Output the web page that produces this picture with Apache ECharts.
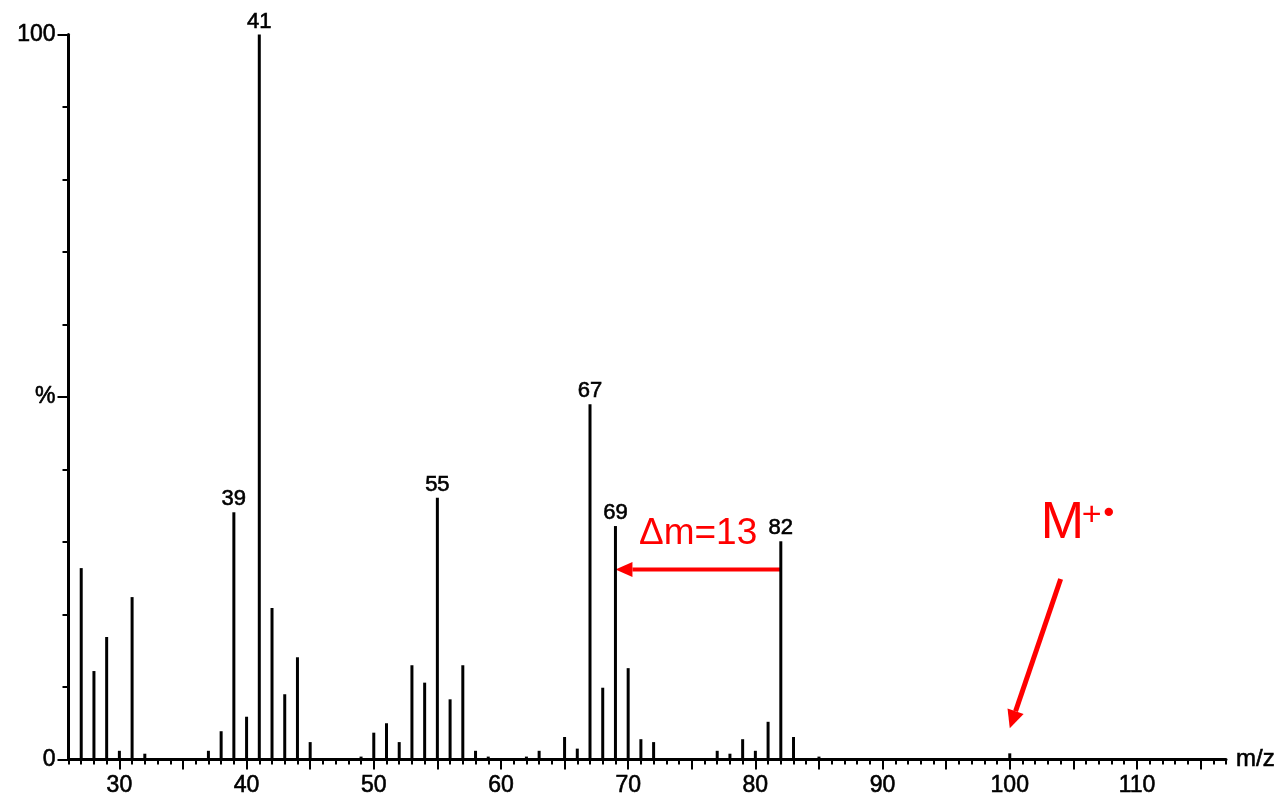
<!DOCTYPE html>
<html>
<head>
<meta charset="utf-8">
<script src="https://cdn.jsdelivr.net/npm/echarts@6/dist/echarts.min.js"></script>
<style>
html,body{margin:0;padding:0;background:#fff;}
#chart{width:1283px;height:800px;}
</style>
</head>
<body>
<div id="chart"></div>
<script>
// ---- data ----
const mz = [27,28,29,30,31,32,37,38,39,40,41,42,43,44,45,49,50,51,52,53,54,55,56,57,58,59,62,63,65,66,67,68,69,70,71,72,77,78,79,80,81,82,83,85,100];
const intensity = [26.4,12.2,16.9,1.2,22.4,0.8,1.2,3.9,34.1,5.9,100,20.9,9.0,14.1,2.4,0.4,3.7,5.0,2.4,13.0,10.6,36.1,8.3,13.0,1.2,0.4,0.4,1.2,3.1,1.5,49.0,9.9,32.2,12.6,2.8,2.4,1.2,0.8,2.8,1.2,5.2,30.1,3.1,0.4,0.85];
const labeledPeaks = [39,41,55,67,69,82];
const xLabelTicks = [30,40,50,60,70,80,90,100,110];
const xMajorTicks = [30,35,40,45,50,55,60,65,70,75,80,85,90,95,100,105,110,115];
const yMinorTicks = [0,10,20,30,40,50,60,70,80,90,100];
const yLabelValues = [0,50,100];
const yLabelTexts = ['0','%','100'];
const xMin = 26, xMax = 117;
// annotations (data coordinates)
const deltaArrow = [[82,26.2],[69,26.2]];
const deltaLabel = {text:'Δm=13', at:[75.5,31.2]};
const molArrow = [[104.0,24.9],[100,4.3]];
const molLabelAt = [102.44,32.5];

// ---- chart ----
const xMinorTicks = [];
for (let v = xMin; v <= xMax; v++) xMinorTicks.push(v);

const FONT = '"Liberation Sans", Arial, sans-serif';
const INK = {color:'#000', textBorderColor:'#000', textBorderWidth:0.6};
const chart = echarts.init(document.getElementById('chart'));

const barData = mz.map((m, i) => {
  const item = {value:[m, intensity[i]]};
  if (labeledPeaks.includes(m)) item.label = {show:true};
  return item;
});

chart.setOption({
  animation:false,
  backgroundColor:'#fff',
  grid:{left:68.5, right:57, top:34.5, bottom:40.5, containLabel:false},
  xAxis:[
    {type:'value', min:xMin, max:xMax, position:'bottom',
     name:'m/z', nameLocation:'end', nameGap:10,
     nameTextStyle:Object.assign({fontFamily:FONT, fontSize:24, verticalAlign:'middle'}, INK),
     axisLine:{show:true, onZero:false, lineStyle:{color:'#000', width:3}},
     axisTick:{show:true, length:5, customValues:xMinorTicks, lineStyle:{color:'#000', width:2}},
     axisLabel:{show:false}, splitLine:{show:false}},
    {type:'value', min:xMin, max:xMax, position:'bottom',
     axisLine:{show:false},
     axisTick:{show:true, length:10, customValues:xMajorTicks, lineStyle:{color:'#000', width:2}},
     axisLabel:Object.assign({show:true, customValues:xLabelTicks, margin:15, fontFamily:FONT, fontSize:23}, INK),
     splitLine:{show:false}}
  ],
  yAxis:[
    {type:'value', min:0, max:100, position:'left',
     axisLine:{show:true, lineStyle:{color:'#000', width:3}},
     axisTick:{show:true, length:6, customValues:yMinorTicks, lineStyle:{color:'#000', width:2}},
     axisLabel:{show:false}, splitLine:{show:false}},
    {type:'value', min:0, max:100, position:'left',
     axisLine:{show:false},
     axisTick:{show:true, length:11, customValues:yLabelValues, lineStyle:{color:'#000', width:2}},
     axisLabel:Object.assign({show:true, customValues:yLabelValues, margin:13, fontFamily:FONT, fontSize:23,
       formatter:(v)=>{const i=yLabelValues.indexOf(v); return i>=0?yLabelTexts[i]:'';}}, INK),
     splitLine:{show:false}}
  ],
  series:[{
    type:'bar', xAxisIndex:0, yAxisIndex:0, barWidth:3,
    itemStyle:{color:'#000'},
    label:Object.assign({show:false, position:'top', distance:2, fontFamily:FONT, fontSize:22,
      formatter:(p)=>String(p.value[0])}, INK),
    data:barData
  }]
});

// ---- annotations through the axis scales ----
function px(p){ return chart.convertToPixel({xAxisIndex:0, yAxisIndex:0}, p); }
function arrow(a, b, w, headLen, headW){
  const A = px(a), B = px(b);
  const dx = B[0]-A[0], dy = B[1]-A[1];
  const L = Math.hypot(dx, dy), ux = dx/L, uy = dy/L;
  const bx = B[0]-ux*headLen, by = B[1]-uy*headLen;
  const nx = -uy, ny = ux;
  return [
    {type:'line', shape:{x1:A[0], y1:A[1], x2:bx, y2:by}, style:{stroke:'#ff0000', lineWidth:w}},
    {type:'polygon', shape:{points:[[B[0],B[1]],[bx+nx*headW/2, by+ny*headW/2],[bx-nx*headW/2, by-ny*headW/2]]}, style:{fill:'#ff0000'}}
  ];
}
const dl = px(deltaLabel.at);
const ml = px(molLabelAt);
chart.setOption({
  graphic:[
    ...arrow(deltaArrow[0], deltaArrow[1], 4, 17, 15),
    ...arrow(molArrow[0], molArrow[1], 5, 18, 17),
    {type:'text', x:dl[0], y:dl[1], style:{text:deltaLabel.text, fill:'#ff0000', font:'37px '+FONT, align:'center', verticalAlign:'middle'}},
    {type:'text', x:ml[0], y:ml[1], style:{text:'M', fill:'#ff0000', font:'52px '+FONT, align:'left', verticalAlign:'middle'}},
    {type:'text', x:ml[0]+41, y:ml[1]-8, style:{text:'+', fill:'#ff0000', font:'34px '+FONT, align:'left', verticalAlign:'middle'}},
    {type:'circle', shape:{cx:ml[0]+68, cy:ml[1]-12, r:4.2}, style:{fill:'#ff0000'}}
  ]
});
</script>
</body>
</html>
